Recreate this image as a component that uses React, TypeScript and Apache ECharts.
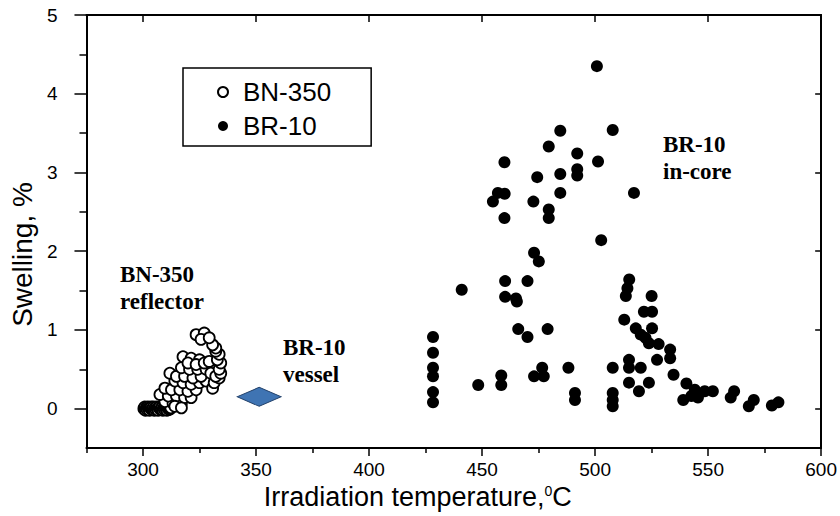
import React, { useEffect, useRef } from "react";
import * as echarts from "echarts";

// ---- data ----
const xMajorTicks = [300, 350, 400, 450, 500, 550, 600];
const xMinorTicks = [275, 325, 375, 425, 475, 525, 575];
const yMajorTicks = [0, 1, 2, 3, 4, 5];
const yMinorTicks = [0.5, 1.5, 2.5, 3.5, 4.5];

// BN-350 reflector (open circles): [temperature °C, swelling %]
// the densely overlapping zero-swelling points near 300-313 °C read as a solid black band
const bn350: number[][] = [
  [300.4, 0.0], [300.8, 0.02], [301.1, -0.02], [301.5, 0.01], [301.8, -0.01], [302.2, 0.02],
  [302.5, 0.0], [302.9, -0.02], [303.2, 0.01], [303.6, 0.02], [303.9, -0.01], [304.3, 0.0],
  [304.6, 0.02], [305.0, -0.02], [305.3, 0.01], [305.7, -0.01], [306.0, 0.02], [306.4, 0.0],
  [306.7, -0.02], [307.1, 0.01], [307.4, 0.02], [307.8, -0.01], [308.1, 0.0], [308.5, 0.02],
  [308.8, -0.02], [309.2, 0.01], [309.5, -0.01], [309.9, 0.02], [310.2, 0.0], [310.6, -0.02],
  [310.9, 0.01], [311.3, 0.02], [311.6, -0.01], [312.0, 0.0], [312.3, 0.01],
  [309.7, 0.09], [313.3, 0.07], [317.0, 0.07],
  [307.5, 0.18], [311.2, 0.16], [314.8, 0.16], [318.4, 0.14], [321.3, 0.14],
  [309.7, 0.26], [312.6, 0.24], [316.3, 0.24], [319.9, 0.22], [323.5, 0.24],
  [314.1, 0.35], [317.7, 0.33], [321.3, 0.31], [325.0, 0.33], [327.9, 0.35],
  [311.9, 0.45], [314.8, 0.41], [318.4, 0.41], [322.1, 0.39], [325.7, 0.41],
  [317.0, 0.52], [320.6, 0.5], [324.2, 0.5], [327.9, 0.5], [330.8, 0.52], [330.0, 0.45],
  [317.7, 0.66], [321.3, 0.64], [325.0, 0.62], [319.9, 0.58], [323.5, 0.56], [327.1, 0.58],
  [329.3, 0.6],
  [330.8, 0.26], [331.5, 0.33], [333.7, 0.39], [332.2, 0.41], [334.4, 0.45], [333.7, 0.5],
  [334.4, 0.58], [332.9, 0.62], [333.7, 0.69], [332.2, 0.73], [332.2, 0.77], [330.8, 0.81],
  [323.5, 0.94], [327.1, 0.96], [325.7, 0.88], [329.3, 0.9],
  [314.1, 0.03], [317.0, 0.01]
];

// BR-10 in-core (filled circles)
const br10: number[][] = [
  [500.8, 4.35],
  [507.8, 3.54], [484.6, 3.53], [479.5, 3.33], [492.1, 3.24], [459.9, 3.13], [501.3, 3.14],
  [492.1, 3.04], [492.1, 2.96], [484.6, 2.98], [474.4, 2.94],
  [484.6, 2.74], [517.2, 2.74], [457.0, 2.74], [460.0, 2.73], [454.8, 2.63], [472.7, 2.63],
  [479.5, 2.53], [479.5, 2.42], [459.9, 2.42],
  [502.7, 2.14], [473.0, 1.98], [475.1, 1.87],
  [441.0, 1.51], [460.2, 1.62], [470.1, 1.62], [460.2, 1.42], [465.0, 1.4], [465.4, 1.36],
  [466.0, 1.01], [470.1, 0.91], [479.0, 1.01],
  [428.3, 0.91], [428.3, 0.71], [428.3, 0.52], [428.3, 0.41], [428.3, 0.21], [428.3, 0.08],
  [448.3, 0.3], [458.5, 0.42], [458.5, 0.3],
  [476.6, 0.52], [473.0, 0.41], [477.3, 0.41], [488.2, 0.52],
  [491.1, 0.2], [491.1, 0.11],
  [507.8, 0.52], [507.8, 0.2], [507.8, 0.11], [507.8, 0.03],
  [515.1, 1.64], [514.3, 1.53], [513.6, 1.43], [525.0, 1.43],
  [521.6, 1.23], [525.2, 1.23], [512.9, 1.13],
  [518.0, 1.02], [525.2, 1.02], [520.2, 0.94], [522.3, 0.9], [523.8, 0.83], [528.1, 0.82],
  [533.2, 0.75], [533.2, 0.64], [527.4, 0.62], [515.0, 0.62],
  [515.0, 0.52], [520.2, 0.52], [534.7, 0.43],
  [515.0, 0.33], [523.8, 0.33], [540.4, 0.32], [519.4, 0.22],
  [544.1, 0.24], [548.5, 0.22], [552.1, 0.22],
  [539.0, 0.11], [542.6, 0.16], [545.5, 0.14],
  [561.5, 0.22], [560.0, 0.14], [570.2, 0.11], [568.0, 0.03],
  [581.1, 0.08], [578.2, 0.04]
];

// BR-10 vessel (diamond)
const br10Vessel: number[][] = [[351.4, 0.15]];

const SANS = "'Liberation Sans', Arial, sans-serif";
const SERIF = "'Liberation Serif', 'Times New Roman', serif";

export default function App() {
  const ref = useRef<HTMLDivElement>(null);

  useEffect(() => {
    if (!ref.current) return;
    const chart = echarts.init(ref.current, undefined, { renderer: "svg" });
    const axisLine = { show: true, onZero: false, lineStyle: { color: "#000", width: 2 } };
    const noLine = { show: false, onZero: false };
    const hidden = { show: false };
    const xBase = { type: "value", min: 275, max: 600, interval: 25, splitLine: hidden };
    const yBase = { type: "value", min: -0.5, max: 5, interval: 0.5, splitLine: hidden };
    const tickStyle = { color: "#000", width: 1.5 };

    chart.setOption({
      animation: false,
      backgroundColor: "#fff",
      grid: { left: 77, right: 15, top: 15, bottom: 68, containLabel: false },
      legend: {
        data: ["BN-350", "BR-10"],
        left: 183,
        top: 68,
        orient: "vertical",
        borderColor: "#000",
        borderWidth: 1.5,
        padding: [11, 40, 7, 34],
        itemWidth: 30,
        itemHeight: 10,
        itemGap: 8,
        selectedMode: false,
        textStyle: { fontFamily: SANS, fontSize: 26, color: "#000", lineHeight: 24 }
      },
      xAxis: [
        {
          ...xBase,
          position: "bottom",
          axisLine,
          axisTick: { show: true, customValues: xMajorTicks, length: 8, lineStyle: tickStyle },
          axisLabel: { customValues: xMajorTicks, margin: 12, color: "#000", fontFamily: SANS, fontSize: 19 },
          name: "Irradiation temperature,{sup|0}C",
          nameLocation: "middle",
          nameGap: 32,
          nameTextStyle: {
            fontFamily: SANS,
            fontSize: 27,
            color: "#000",
            padding: [0, 72, 0, 0],
            rich: { sup: { fontFamily: SANS, fontSize: 14, color: "#000", padding: [0, 0, 13, 0] } }
          }
        },
        {
          ...xBase,
          position: "bottom",
          axisLine: noLine,
          axisTick: { show: true, customValues: xMinorTicks, length: 5, lineStyle: tickStyle },
          axisLabel: hidden
        },
        {
          ...xBase,
          position: "top",
          axisLine,
          axisTick: { show: true, inside: true, customValues: xMajorTicks, length: 7, lineStyle: tickStyle },
          axisLabel: hidden
        }
      ],
      yAxis: [
        {
          ...yBase,
          position: "left",
          axisLine,
          axisTick: { show: true, customValues: yMajorTicks, length: 12, lineStyle: tickStyle },
          axisLabel: { customValues: yMajorTicks, margin: 29, color: "#000", fontFamily: SANS, fontSize: 19 },
          name: "Swelling, %",
          nameLocation: "middle",
          nameGap: 42,
          nameRotate: 90,
          nameTextStyle: { fontFamily: SANS, fontSize: 28, color: "#000", padding: [0, 46, 0, 0] }
        },
        {
          ...yBase,
          position: "left",
          axisLine: noLine,
          axisTick: { show: true, customValues: yMinorTicks, length: 7, lineStyle: tickStyle },
          axisLabel: hidden
        },
        {
          ...yBase,
          position: "right",
          axisLine,
          axisTick: { show: true, inside: true, customValues: yMajorTicks, length: 6, lineStyle: tickStyle },
          axisLabel: hidden
        }
      ],
      series: [
        {
          name: "BN-350",
          type: "scatter",
          xAxisIndex: 0,
          yAxisIndex: 0,
          data: bn350,
          symbol: "circle",
          symbolSize: 11,
          itemStyle: { color: "#fff", borderColor: "#000", borderWidth: 1.8, opacity: 1 }
        },
        {
          name: "BR-10",
          type: "scatter",
          xAxisIndex: 0,
          yAxisIndex: 0,
          data: br10,
          symbol: "circle",
          symbolSize: 12,
          itemStyle: { color: "#000", opacity: 1 }
        },
        {
          name: "BR-10 vessel",
          type: "scatter",
          xAxisIndex: 0,
          yAxisIndex: 0,
          data: br10Vessel,
          symbol: "diamond",
          symbolSize: [44, 19],
          itemStyle: { color: "#3f74b3", borderColor: "#1d3c66", borderWidth: 1, opacity: 1 }
        }
      ],
      graphic: [
        {
          type: "text",
          left: 120,
          top: 261,
          style: { text: "BN-350\nreflector", font: `bold 23px ${SERIF}`, lineHeight: 27, fill: "#000" }
        },
        {
          type: "text",
          left: 283,
          top: 334,
          style: { text: "BR-10\nvessel", font: `bold 23px ${SERIF}`, lineHeight: 27, fill: "#000" }
        },
        {
          type: "text",
          left: 663,
          top: 131,
          style: { text: "BR-10\nin-core", font: `bold 23px ${SERIF}`, lineHeight: 27, fill: "#000" }
        }
      ]
    });
    return () => chart.dispose();
  }, []);

  return <div ref={ref} style={{ width: 840, height: 516, position: "absolute", left: 0, top: 0, background: "#fff" }} />;
}
